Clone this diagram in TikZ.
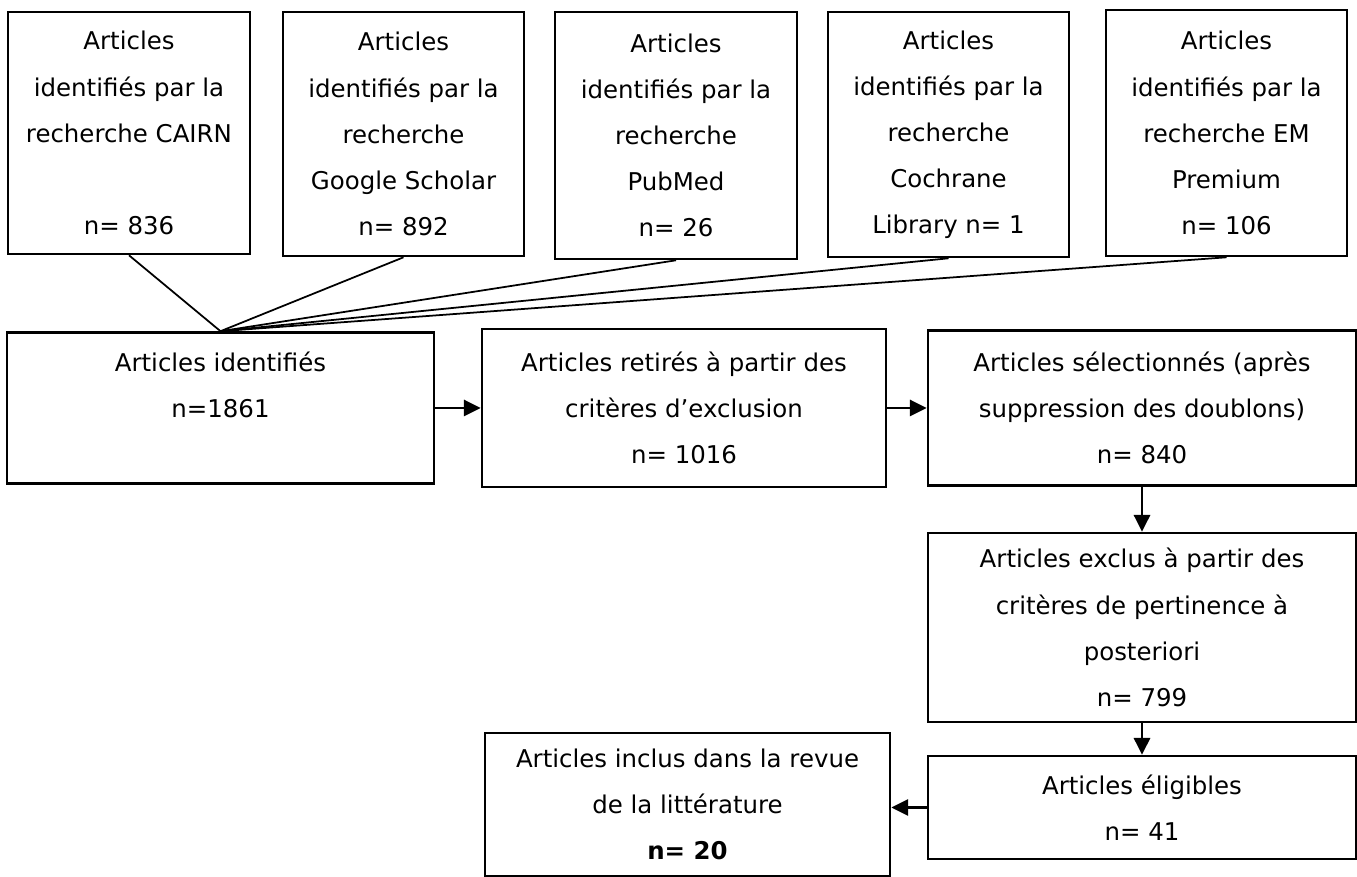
\documentclass[tikz,border=0pt]{standalone}
\usepackage{fontspec}
\setmainfont{DejaVu Sans}
\usetikzlibrary{calc,arrows.meta}

\begin{document}
\begin{tikzpicture}[x=0.01cm, y=-0.01cm,
        every node/.style={font=\fontsize{6.95pt}{13.1pt}\selectfont, inner sep=0pt},
        box/.style={draw, line width=0.7pt, align=center},
        link/.style={line width=0.5pt},
        flow/.style={line width=0.8pt, -{Triangle[length=4.8pt, width=4.6pt]}}]
        \useasboundingbox (0,0) rectangle (1357,877);

        % Sources
        \node[box, minimum width=2.42cm, minimum height=2.42cm] (cairn) at (129,133)
            {Articles\\identifiés par la\\recherche CAIRN\\[13.1pt]n= 836};
        \node[box, minimum width=2.41cm, minimum height=2.44cm] (scholar) at (403.5,134)
            {Articles\\identifiés par la\\recherche\\Google Scholar\\n= 892};
        \node[box, minimum width=2.42cm, minimum height=2.47cm] (pubmed) at (676,135.5)
            {Articles\\identifiés par la\\recherche\\PubMed\\n= 26};
        \node[box, minimum width=2.41cm, minimum height=2.45cm] (cochrane) at (948.5,134.5)
            {Articles\\identifiés par la\\recherche\\Cochrane\\Library n= 1};
        \node[box, minimum width=2.41cm, minimum height=2.46cm] (emprem) at (1226.5,133)
            {Articles\\identifiés par la\\recherche EM\\Premium\\n= 106};

        % Selection steps
        \node[box, minimum width=4.27cm, minimum height=1.51cm] (ident) at (220.5,408)
            {Articles identifiés\\n=1861\\\mbox{}};
        \node[box, minimum width=4.04cm, minimum height=1.58cm] (retir) at (684,408)
            {Articles retirés à partir des\\critères d’exclusion\\n= 1016};
        \node[box, minimum width=4.28cm, minimum height=1.55cm] (select) at (1142,408)
            {Articles sélectionnés (après\\suppression des doublons)\\n= 840};
        \node[box, minimum width=4.28cm, minimum height=1.89cm] (exclus) at (1142,627.5)
            {Articles exclus à partir des\\critères de pertinence à\\posteriori\\n= 799};
        \node[box, minimum width=4.28cm, minimum height=1.03cm] (elig) at (1142,807.5)
            {Articles éligibles\\n= 41};
        \node[box, minimum width=4.05cm, minimum height=1.43cm] (inclus) at (687.5,804.5)
            {Articles inclus dans la revue\\de la littérature\\\textbf{n= 20}};

        % Sources to identified articles
        \foreach \src in {cairn,scholar,pubmed,cochrane,emprem}
            \draw[link] (\src.south) -- (ident.north);

        % Flow arrows
        \draw[flow] (ident) -- (retir);
        \draw[flow] (retir) -- (select);
        \draw[flow] (select) -- (exclus);
        \draw[flow] (exclus) -- (elig);
        \draw[flow] (elig.west) -- (inclus.east |- elig.west);
    \end{tikzpicture}
\end{document}
